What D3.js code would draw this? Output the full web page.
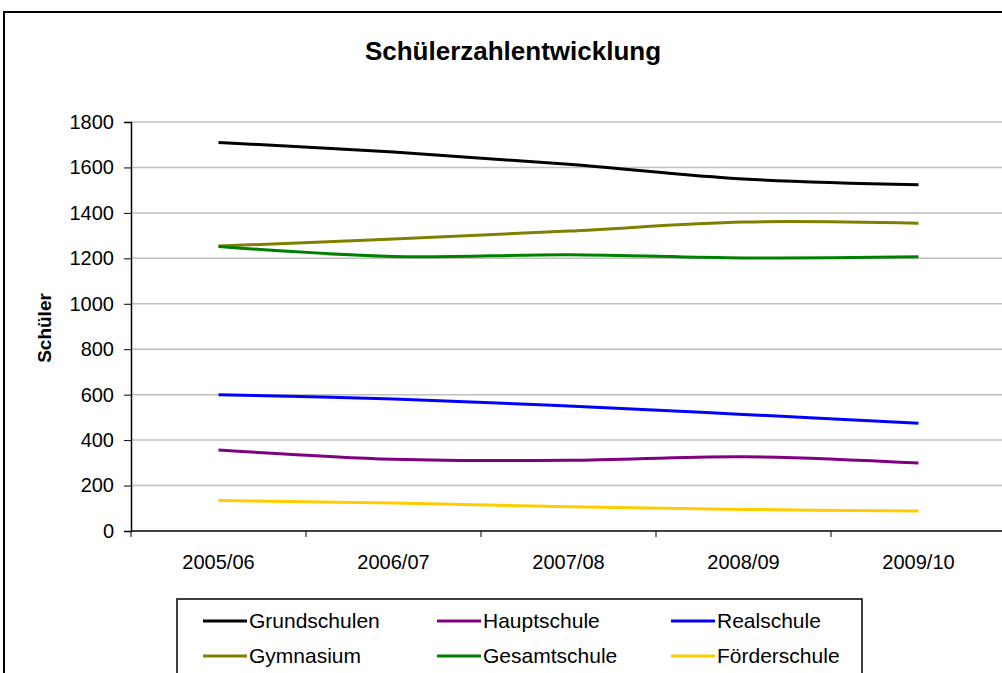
<!DOCTYPE html>
<html>
<head>
<meta charset="utf-8">
<script src="https://cdn.jsdelivr.net/npm/d3@7"></script>
<style>
  body { margin: 0; background: #fff; overflow: hidden; }
  svg { display: block; font-family: "Liberation Sans", Arial, sans-serif; }
</style>
</head>
<body>
<svg></svg>
<script>
/* data */
var years = ["2005/06", "2006/07", "2007/08", "2008/09", "2009/10"];
var seriesNames = ["Grundschulen", "Hauptschule", "Realschule", "Gymnasium", "Gesamtschule", "Förderschule"];
var grundschulen = [1710, 1668, 1614, 1549, 1524];
var hauptschule = [357, 316, 311, 327, 299];
var realschule = [600, 581, 550, 513, 474];
var gymnasium = [1254, 1285, 1320, 1360, 1354];
var gesamtschule = [1252, 1208, 1216, 1202, 1207];
var foerderschule = [134, 123, 107, 95, 88];
var yTicks = [0, 200, 400, 600, 800, 1000, 1200, 1400, 1600, 1800];

var colors = ["#000000", "#800080", "#0000ff", "#808000", "#008000", "#ffcc00"];
var allValues = [grundschulen, hauptschule, realschule, gymnasium, gesamtschule, foerderschule];

var width = 1002;
var height = 673;

var svgContainer = d3.select("svg").attr("width", width).attr("height", height);

// outer chart frame
svgContainer
  .append("rect")
  .attr("x", 4)
  .attr("y", 12)
  .attr("width", 1010)
  .attr("height", 700)
  .attr("fill", "none")
  .attr("stroke", "#000")
  .attr("stroke-width", 2);

svgContainer
  .append("text")
  .attr("x", 513)
  .attr("y", 60)
  .attr("text-anchor", "middle")
  .style("font-size", "26px")
  .style("font-weight", "bold")
  .text("Schülerzahlentwicklung");

var xScale = d3.scaleBand().domain(years).range([131, 1006]);
var yScale = d3.scaleLinear().domain([0, 1800]).range([531, 122]);

// gridlines
svgContainer
  .append("g")
  .selectAll("line")
  .data(yTicks.slice(1))
  .enter()
  .append("line")
  .attr("x1", 131)
  .attr("x2", 1006)
  .attr("y1", (d) => yScale(d))
  .attr("y2", (d) => yScale(d))
  .attr("stroke", "#c0c0c0")
  .attr("stroke-width", 1.5);

var yAxis = d3
  .axisLeft(yScale)
  .tickValues(yTicks)
  .tickFormat(d3.format("d"))
  .tickSize(7)
  .tickPadding(10);
var gy = svgContainer.append("g").attr("transform", "translate(131,0)").call(yAxis);

var xAxis = d3.axisBottom(xScale).tickSize(0).tickPadding(24);
var gx = svgContainer.append("g").attr("transform", "translate(0,531)").call(xAxis);

// category boundary ticks below the x axis
gx.selectAll(".sep")
  .data(years.concat(["end"]))
  .enter()
  .append("line")
  .attr("class", "sep")
  .attr("x1", (d, i) => 131 + i * xScale.step())
  .attr("x2", (d, i) => 131 + i * xScale.step())
  .attr("y1", 0)
  .attr("y2", 6)
  .attr("stroke", "#000");

[gx, gy].forEach((g) => {
  g.select(".domain").attr("stroke", "#000").attr("stroke-width", 1.5);
  g.selectAll(".tick line").attr("stroke", "#000");
  g.selectAll("text")
    .attr("fill", "#000")
    .style("font-family", "'Liberation Sans', Arial, sans-serif")
    .style("font-size", "20px");
});
gx.select(".domain").attr("d", "M131,0H1006");

svgContainer
  .append("text")
  .attr("transform", "translate(51,328) rotate(-90)")
  .attr("text-anchor", "middle")
  .style("font-size", "19px")
  .style("font-weight", "bold")
  .text("Schüler");

var line = d3
  .line()
  .x((d, i) => xScale(years[i]) + xScale.bandwidth() / 2)
  .y((d) => yScale(d))
  .curve(d3.curveCatmullRom.alpha(0.5));

svgContainer
  .append("g")
  .selectAll("path")
  .data(allValues)
  .enter()
  .append("path")
  .attr("d", (d) => line(d))
  .attr("fill", "none")
  .attr("stroke", (d, i) => colors[i])
  .attr("stroke-width", 3);

// legend
svgContainer
  .append("rect")
  .attr("x", 177)
  .attr("y", 599)
  .attr("width", 685)
  .attr("height", 100)
  .attr("fill", "#fff")
  .attr("stroke", "#000")
  .attr("stroke-width", 1.5);

var legend = svgContainer
  .append("g")
  .selectAll("g")
  .data(seriesNames)
  .enter()
  .append("g")
  .attr("transform", (d, i) => "translate(" + (203 + (i % 3) * 234) + "," + (621 + Math.floor(i / 3) * 35) + ")");

legend
  .append("line")
  .attr("x1", 0)
  .attr("x2", 44)
  .attr("stroke", (d, i) => colors[i])
  .attr("stroke-width", 3);

legend
  .append("text")
  .attr("x", 46)
  .attr("dy", "0.35em")
  .style("font-size", "21px")
  .text((d) => d);
</script>
</body>
</html>
